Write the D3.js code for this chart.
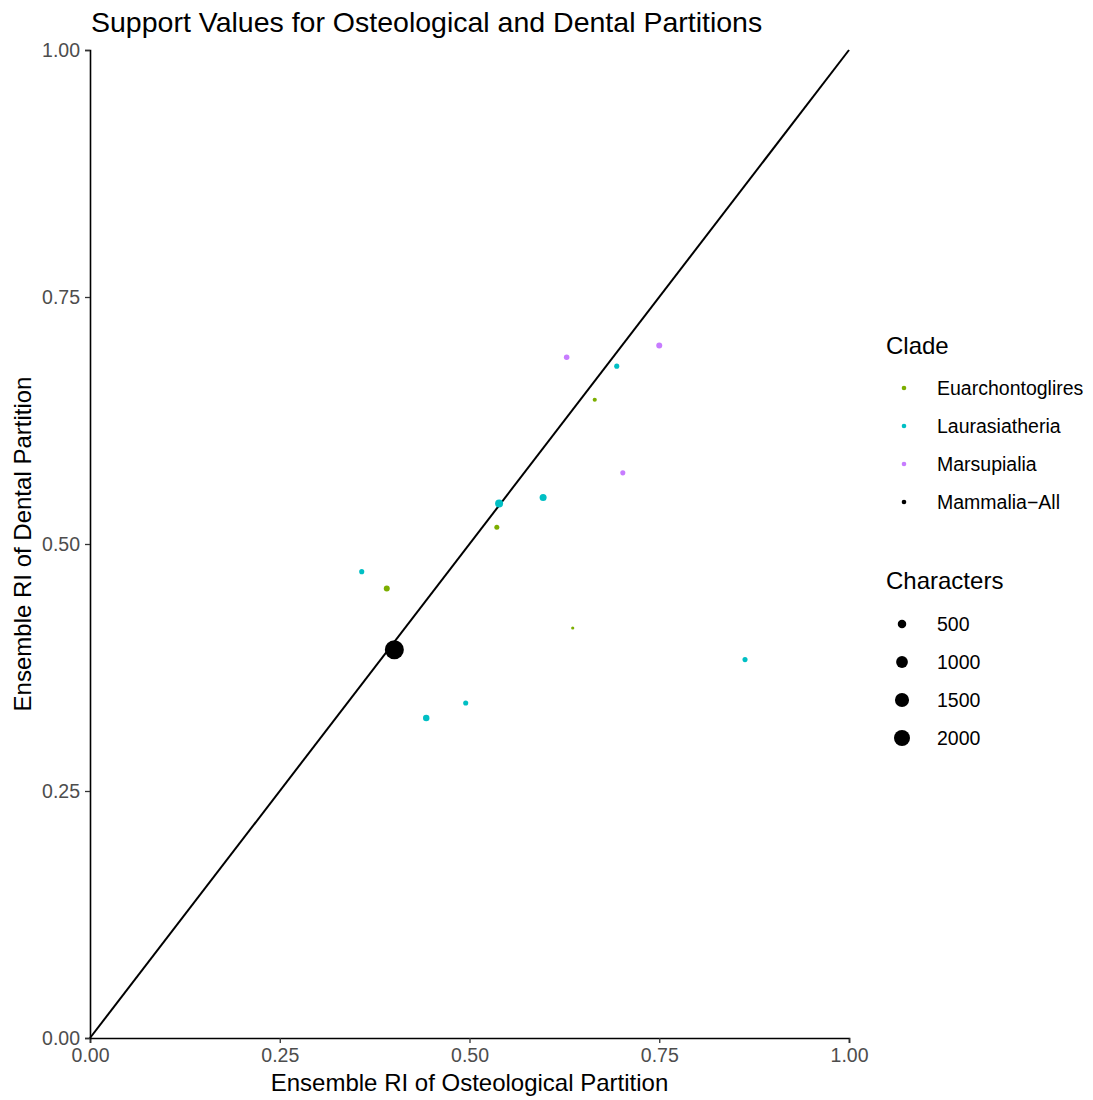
<!DOCTYPE html>
<html>
<head>
<meta charset="utf-8">
<script src="https://cdn.jsdelivr.net/npm/d3@7"></script>
<style>
  body { margin: 0; background: #fff; }
  svg text { font-family: "Liberation Sans", Arial, sans-serif; }
</style>
</head>
<body>
<svg id="chart" width="1093" height="1100"></svg>
<script>
// Ensemble retention index per clade / partition
const clades = ["Euarchontoglires", "Laurasiatheria", "Marsupialia", "Mammalia\u2212All"];
const cladeColors = ["#7CAE00", "#00BFC4", "#C77CFF", "#000000"];

const pointClade = [
  "Euarchontoglires", "Euarchontoglires", "Euarchontoglires", "Euarchontoglires",
  "Laurasiatheria", "Laurasiatheria", "Laurasiatheria", "Laurasiatheria",
  "Laurasiatheria", "Laurasiatheria", "Laurasiatheria",
  "Marsupialia", "Marsupialia", "Marsupialia",
  "Mammalia\u2212All"
];
const osteoRI = [0.391, 0.536, 0.665, 0.636,
                 0.358, 0.443, 0.495, 0.539, 0.597, 0.694, 0.863,
                 0.628, 0.750, 0.702,
                 0.401];
const dentalRI = [0.455, 0.517, 0.646, 0.415,
                  0.472, 0.324, 0.339, 0.541, 0.547, 0.680, 0.383,
                  0.689, 0.701, 0.572,
                  0.393];
const characters = [276, 226, 200, 190,
                    230, 310, 230, 445, 350, 230, 230,
                    250, 276, 230,
                    2950];

const axisTicks = [0, 0.25, 0.5, 0.75, 1];
const sizeBreaks = [500, 1000, 1500, 2000];

const svg = d3.select("#chart");
const margin = { left: 90, right: 849, top: 50, bottom: 1038 };

const x = d3.scaleLinear().domain([0, 1]).range([margin.left, margin.right]);
const y = d3.scaleLinear().domain([0, 1]).range([margin.bottom, margin.top]);
const color = d3.scaleOrdinal().domain(clades).range(cladeColors);

// point area grows with character count (diameter 3.2px .. 19px)
const cMin = d3.min(characters), cMax = d3.max(characters);
const norm = d3.scaleLinear().domain([cMin, cMax]).range([0, 1]);
const diam = d3.scaleLinear().domain([0, 1]).range([3.2, 19]);
const radius = v => diam(Math.sqrt(Math.max(0, norm(v)))) / 2;

// 1:1 reference line
svg.append("line")
  .attr("x1", x(0)).attr("y1", y(0))
  .attr("x2", x(1)).attr("y2", y(1))
  .attr("stroke", "#000").attr("stroke-width", 2);

// points
const pts = osteoRI.map((v, i) => ({ x: v, y: dentalRI[i], c: pointClade[i], n: characters[i] }));
svg.append("g").selectAll("circle")
  .data(pts)
  .join("circle")
  .attr("cx", d => x(d.x))
  .attr("cy", d => y(d.y))
  .attr("r", d => radius(d.n))
  .attr("fill", d => color(d.c));

// axes
const fmt = d3.format(".2f");
const xAxis = svg.append("g")
  .attr("transform", `translate(0,${margin.bottom})`)
  .call(d3.axisBottom(x).tickValues(axisTicks).tickFormat(fmt).tickSize(5).tickPadding(5));
const yAxis = svg.append("g")
  .attr("transform", `translate(${margin.left},0)`)
  .call(d3.axisLeft(y).tickValues(axisTicks).tickFormat(fmt).tickSize(5).tickPadding(5));

[xAxis, yAxis].forEach(g => {
  g.select(".domain").attr("stroke", "#000").attr("stroke-width", 1.6);
  g.selectAll(".tick line").attr("stroke", "#333").attr("stroke-width", 1.3);
  g.selectAll(".tick text")
    .attr("fill", "#4D4D4D")
    .style("font-size", "19.5px")
    .style("font-family", "'Liberation Sans', Arial, sans-serif");
});

// titles
svg.append("text")
  .attr("x", 91).attr("y", 32)
  .style("font-size", "28.5px")
  .attr("fill", "#000")
  .text("Support Values for Osteological and Dental Partitions");

svg.append("text")
  .attr("x", (margin.left + margin.right) / 2).attr("y", 1091)
  .attr("text-anchor", "middle")
  .style("font-size", "24px")
  .text("Ensemble RI of Osteological Partition");

svg.append("text")
  .attr("transform", `translate(31,${(margin.top + margin.bottom) / 2}) rotate(-90)`)
  .attr("text-anchor", "middle")
  .style("font-size", "24px")
  .text("Ensemble RI of Dental Partition");

// legends
const lg = svg.append("g");
lg.append("text").attr("x", 886).attr("y", 354).style("font-size", "24px").text("Clade");
clades.forEach((c, i) => {
  const cy = 388 + i * 38;
  lg.append("circle").attr("cx", 904).attr("cy", cy).attr("r", 2.3).attr("fill", color(c));
  lg.append("text").attr("x", 937).attr("y", cy + 7).style("font-size", "19.5px").text(c);
});

lg.append("text").attr("x", 886).attr("y", 589).style("font-size", "24px").text("Characters");
sizeBreaks.forEach((b, i) => {
  const cy = 624 + i * 38;
  lg.append("circle").attr("cx", 902).attr("cy", cy).attr("r", radius(b)).attr("fill", "#000");
  lg.append("text").attr("x", 937).attr("y", cy + 7).style("font-size", "19.5px").text(b);
});
</script>
</body>
</html>
